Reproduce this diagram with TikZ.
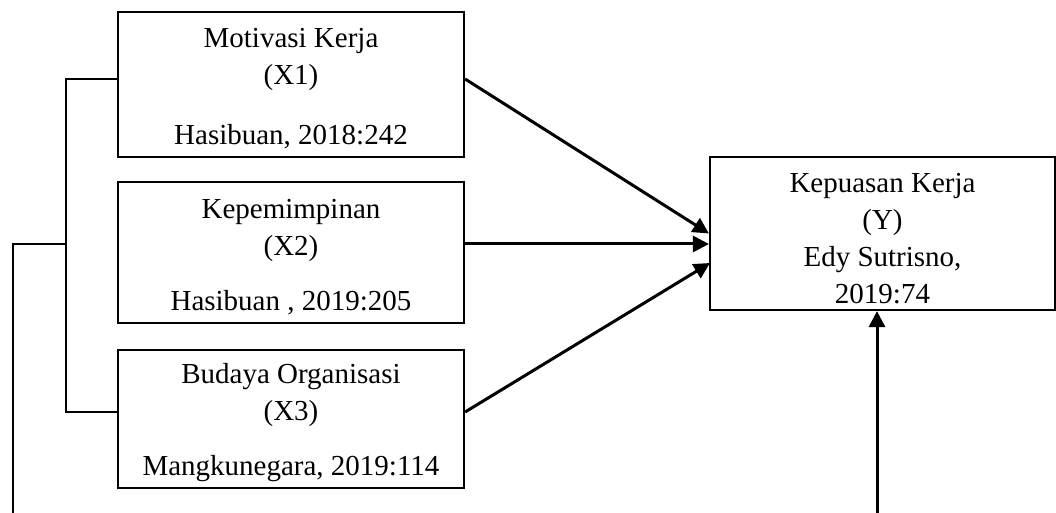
\documentclass[tikz,border=0pt]{standalone}
\usepackage{fontspec}
\setmainfont{Liberation Serif}
\usetikzlibrary{positioning, shapes.geometric, arrows.meta}

\begin{document}
\begin{tikzpicture}[x=0.5pt,y=0.5pt,>={Triangle[length=8pt,width=8pt]},line width=1.1pt]
  \tikzstyle{var}=[draw,rectangle,inner sep=0pt,align=center,minimum width=173pt,
                   font=\fontsize{14.5}{18.5}\selectfont]
  \useasboundingbox (0,0) rectangle (1056,-513);

  \node[var,minimum height=72.5pt] (X1) at (291,-84.5)
    {\rule{0pt}{14pt}Motivasi Kerja\\(X1)\\[11.5pt]Hasibuan, 2018:242};
  \node[var,minimum height=70.5pt] (X2) at (291,-252.5)
    {\rule{0pt}{14pt}Kepemimpinan\\(X2)\\[9pt]Hasibuan , 2019:205};
  \node[var,minimum height=69pt]   (X3) at (291,-419)
    {\rule{0pt}{14pt}Budaya Organisasi\\(X3)\\[9pt]Mangkunegara, 2019:114};
  \node[var,minimum width=172.5pt,minimum height=76.5pt] (Y) at (882.5,-233.5)
    {\rule{0pt}{15pt}Kepuasan Kerja\\(Y)\\Edy Sutrisno,\\2019:74};

  \coordinate (busTop)   at (66,-79);
  \coordinate (busMid)   at (66,-244);
  \coordinate (busBot)   at (66,-412);
  \coordinate (outer)    at (13,-244);
  \coordinate (outerEnd) at (13,-513);
  \coordinate (upStart)  at (877,-513);
  \coordinate (yIn3)     at (710,-263);

  \draw (X1.west |- busTop) -- (busTop) -- (busBot) -- (X3.west |- busBot);
  \draw (busMid) -- (outer) -- (outerEnd);

  \path[->,line width=1.5pt]
        (X1.east |- busTop) edge (Y.west)
        (X2.east |- busMid) edge (Y.west |- busMid)
        (X3.east |- busBot) edge (yIn3)
        (upStart) edge (upStart |- Y.south);
\end{tikzpicture}
\end{document}
